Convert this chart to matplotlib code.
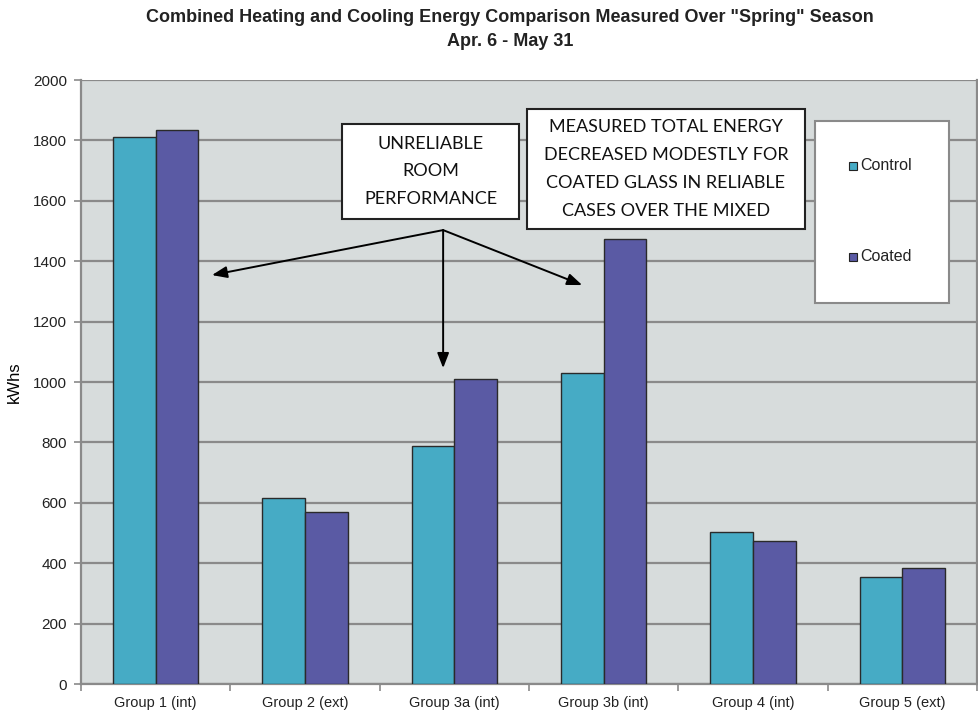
import matplotlib
matplotlib.use("Agg")
import matplotlib.pyplot as plt
from matplotlib.patches import Rectangle
import numpy as np

# Energy use per room group (kWh)
groups = ["Group 1 (int)", "Group 2 (ext)", "Group 3a (int)",
          "Group 3b (int)", "Group 4 (int)", "Group 5 (ext)"]
control = [1810, 617, 788, 1031, 504, 354]
coated = [1834, 570, 1010, 1472, 473, 383]
series_names = ["Control", "Coated"]
yticks = [0, 200, 400, 600, 800, 1000, 1200, 1400, 1600, 1800, 2000]

C_CONTROL = "#46abc5"
C_COATED = "#5a5aa4"
C_PLOT = "#d7dcdc"
C_GRID = "#8a8a8a"

plt.rcParams["font.family"] = ["Liberation Sans", "DejaVu Sans"]

fig = plt.figure(figsize=(9.79, 7.19), dpi=100)
ax = fig.add_axes([81 / 979, 35 / 719, 896 / 979, 604 / 719])
ax.set_facecolor(C_PLOT)

x = np.arange(len(groups))
w = 0.286
ax.bar(x - w / 2, control, w, color=C_CONTROL, edgecolor="#2a2a2a",
       linewidth=1.0, zorder=3, label=series_names[0])
ax.bar(x + w / 2, coated, w, color=C_COATED, edgecolor="#2a2a2a",
       linewidth=1.0, zorder=3, label=series_names[1])

ax.set_xlim(-0.5, len(groups) - 0.5)
ax.set_ylim(0, 2000)
ax.set_yticks(yticks)
ax.set_yticklabels([str(v) for v in yticks], fontsize=11, color="#222222")
ax.yaxis.grid(True, color=C_GRID, linewidth=1.6, zorder=0)
ax.set_axisbelow(True)

# category boundaries carry the tick marks; labels sit at group centres
ax.set_xticks(np.arange(-0.5, len(groups)), minor=False)
ax.set_xticklabels([])
ax.set_xticks(x, minor=True)
ax.set_xticklabels(groups, minor=True, fontsize=10.5, color="#222222")
ax.tick_params(axis="x", which="major", length=5, color=C_GRID, width=1.2)
ax.tick_params(axis="x", which="minor", length=0, pad=9)
ax.tick_params(axis="y", length=5, color=C_GRID, width=1.2, pad=5)

for side in ["left", "bottom", "right"]:
    ax.spines[side].set_color(C_GRID)
    ax.spines[side].set_linewidth(1.6)
ax.spines["top"].set_visible(False)

ax.set_ylabel("kWhs", fontsize=12, labelpad=8)

fig.text(0.521, 0.975, "Combined Heating and Cooling Energy Comparison Measured Over \"Spring\" Season",
         ha="center", va="center", fontsize=13, fontweight="bold", color="#222222")
fig.text(0.521, 0.942, "Apr. 6 - May 31", ha="center", va="center",
         fontsize=13, fontweight="bold", color="#222222")

# callout arrows from a common origin
origin = (1.925, 1503)
tips = [(0.377, 1354), (1.925, 1046), (2.856, 1321)]
for tip in tips:
    ax.annotate("", xy=tip, xytext=origin, zorder=6,
                arrowprops=dict(arrowstyle="-|>,head_length=0.9,head_width=0.35",
                                color="black", linewidth=1.4, shrinkA=0, shrinkB=0))

def text_box(x0, y0, x1, y1, lines, spacing):
    fig.patches.append(Rectangle((x0 / 979, 1 - y1 / 719), (x1 - x0) / 979, (y1 - y0) / 719,
                                 transform=fig.transFigure, facecolor="white",
                                 edgecolor="#222222", linewidth=1.5, zorder=5))
    cx = (x0 + x1) / 2 / 979
    cy = (y0 + y1) / 2
    n = len(lines)
    for i, line in enumerate(lines):
        yy = cy + (i - (n - 1) / 2) * spacing
        fig.text(cx, 1 - yy / 719, line, ha="center", va="center", fontsize=13,
                 family=["Lato", "DejaVu Sans"], color="#111111", zorder=6)

text_box(342, 124, 519, 219, ["UNRELIABLE", "ROOM", "PERFORMANCE"], 27.5)
text_box(527, 109, 805, 229, ["MEASURED TOTAL ENERGY", "DECREASED MODESTLY FOR",
                              "COATED GLASS IN RELIABLE", "CASES OVER THE MIXED"], 28)

# legend panel
fig.patches.append(Rectangle((815 / 979, 1 - 303 / 719), 134 / 979, 182 / 719,
                             transform=fig.transFigure, facecolor="white",
                             edgecolor="#8a8a8a", linewidth=1.5, zorder=5))
for name, col, yy in [(series_names[0], C_CONTROL, 166), (series_names[1], C_COATED, 257)]:
    fig.patches.append(Rectangle((849 / 979, 1 - (yy + 4) / 719), 8 / 979, 8 / 719,
                                 transform=fig.transFigure, facecolor=col,
                                 edgecolor="#222222", linewidth=0.8, zorder=6))
    fig.text(860 / 979, 1 - yy / 719, name, ha="left", va="center",
             fontsize=11.5, color="#222222", zorder=6)

fig.savefig("out.png", dpi=100, facecolor="white")
